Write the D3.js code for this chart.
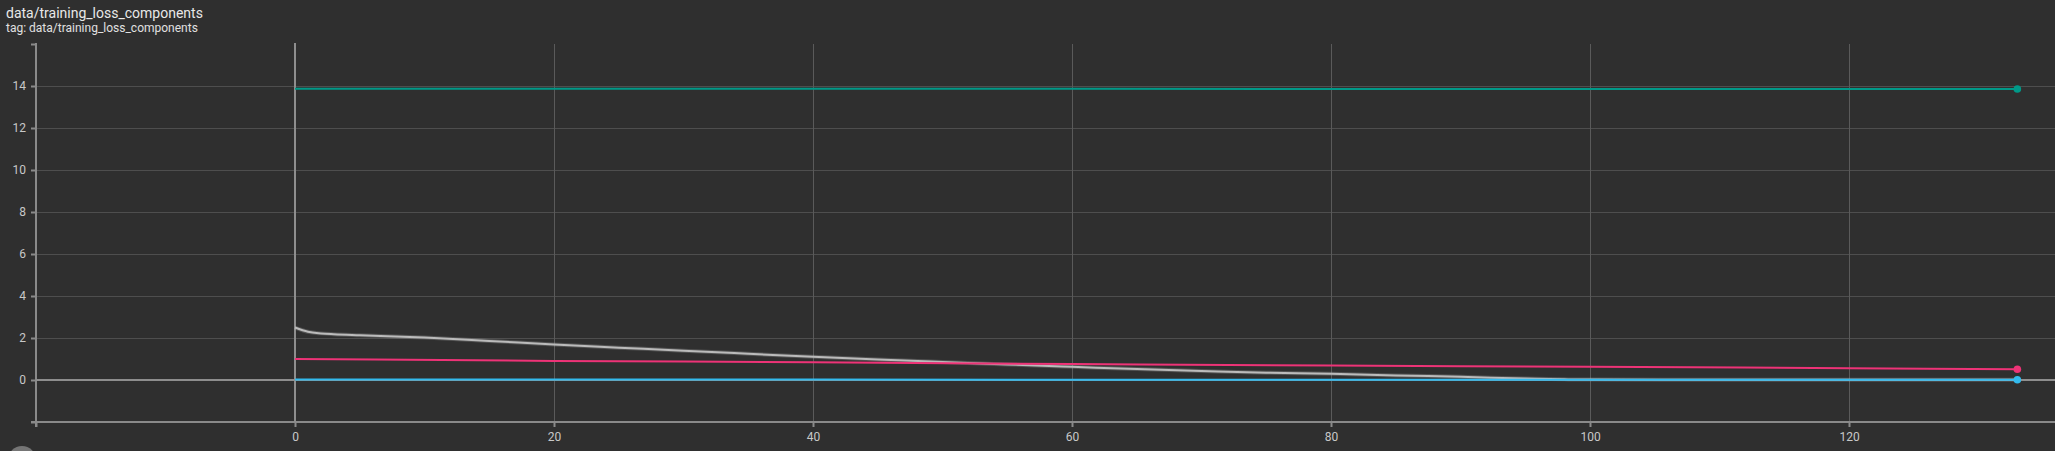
<!DOCTYPE html>
<html>
<head>
<meta charset="utf-8">
<script src="https://cdn.jsdelivr.net/npm/d3@7"></script>
<style>
  html, body { margin: 0; padding: 0; background: #2f2f2f; overflow: hidden; }
  svg { display: block; }
  text { font-family: Roboto, "Noto Sans", sans-serif; }
</style>
</head>
<body>
<svg id="chart" width="2055" height="451"></svg>
<script>
// ---- data ----
const titleText = "data/training_loss_components";
const subtitleText = "tag: data/training_loss_components";

const xTicks = [-20, 0, 20, 40, 60, 80, 100, 120];
const xTickLabels = ["", "0", "20", "40", "60", "80", "100", "120"];
const yTicks = [-2, 0, 2, 4, 6, 8, 10, 12, 14, 16];
const yTickLabels = ["", "0", "2", "4", "6", "8", "10", "12", "14", ""];

// steps and values for each series
const greySteps   = [0, 1, 2, 3, 5, 10, 15, 20, 25, 30, 35, 40, 45, 50, 55, 60, 65, 70, 75, 80, 85, 90, 95, 98, 100, 110, 120, 133];
const greyValues  = [2.50, 2.30, 2.22, 2.18, 2.13, 2.02, 1.86, 1.69, 1.54, 1.39, 1.25, 1.11, 0.98, 0.86, 0.74, 0.63, 0.52, 0.43, 0.35, 0.30, 0.22, 0.15, 0.07, 0.03, 0.02, 0.01, 0.01, 0.01];

const magentaSteps  = [0, 20, 40, 60, 80, 100, 120, 133];
const magentaValues = [1.00, 0.91, 0.85, 0.76, 0.69, 0.63, 0.56, 0.51];

const tealSteps  = [0, 40, 80, 133];
const tealValues = [13.87, 13.87, 13.86, 13.86];

const cyanSteps  = [0, 40, 80, 133];
const cyanValues = [0.02, 0.02, 0.01, 0.01];

// ---- drawing ----
const svg = d3.select("#chart");
const x = d3.scaleLinear().domain([-20, 136]).range([36, 2056.2]);
const y = d3.scaleLinear().domain([-2, 16]).range([422, 44]);

// title
svg.append("text").attr("x", 6).attr("y", 18)
  .attr("fill", "#e8e8e8").attr("font-size", 14).text(titleText);
svg.append("text").attr("x", 6).attr("y", 32)
  .attr("fill", "#e0e0e0").attr("font-size", 12).text(subtitleText);

// grid
const grid = svg.append("g");
grid.selectAll("line.h").data(yTicks.filter(v => v !== 0 && v !== -2 && v !== 16)).join("line")
  .attr("x1", x(-20)).attr("x2", 2055)
  .attr("y1", d => Math.round(y(d)) + 0.5).attr("y2", d => Math.round(y(d)) + 0.5)
  .attr("stroke", "#4e4e4e").attr("stroke-width", 1);
grid.selectAll("line.v").data(xTicks.filter(v => v > 0)).join("line")
  .attr("x1", d => Math.round(x(d)) + 0.5).attr("x2", d => Math.round(x(d)) + 0.5)
  .attr("y1", y(16)).attr("y2", y(-2))
  .attr("stroke", "#5a5a5a").attr("stroke-width", 1);

// axes
const xAxis = d3.axisBottom(x).tickValues(xTicks)
  .tickFormat((d, i) => xTickLabels[i]).tickSize(5).tickPadding(5);
const yAxis = d3.axisLeft(y).tickValues(yTicks)
  .tickFormat((d, i) => yTickLabels[i]).tickSize(5).tickPadding(5);

const gx = svg.append("g").attr("transform", `translate(0,${y(-2)})`).call(xAxis);
gx.select(".domain").remove();
gx.selectAll(".tick line").attr("stroke", "#8a8a8a").attr("stroke-width", 2);
gx.selectAll(".tick text").attr("fill", "#c8c8c8").attr("font-size", 12);
svg.append("line").attr("x1", 31).attr("x2", 2055).attr("y1", y(-2)).attr("y2", y(-2))
  .attr("stroke", "#8a8a8a").attr("stroke-width", 2);

const gy = svg.append("g").attr("transform", `translate(${x(-20)},0)`).call(yAxis);
gy.select(".domain").remove();
gy.selectAll(".tick line").attr("stroke", "#8a8a8a").attr("stroke-width", 2);
gy.selectAll(".tick text").attr("fill", "#c8c8c8").attr("font-size", 12);
svg.append("line").attr("x1", x(-20)).attr("x2", x(-20)).attr("y1", y(16) - 1).attr("y2", y(-2) + 5)
  .attr("stroke", "#8a8a8a").attr("stroke-width", 2);

// zero lines
svg.append("line").attr("x1", x(-20)).attr("x2", 2055).attr("y1", y(0)).attr("y2", y(0))
  .attr("stroke", "#8e8e8e").attr("stroke-width", 2);
svg.append("line").attr("x1", x(0)).attr("x2", x(0)).attr("y1", y(16) - 1).attr("y2", y(-2))
  .attr("stroke", "#8e8e8e").attr("stroke-width", 2);

// series
const line = d3.line().x(d => x(d[0])).y(d => y(d[1])).curve(d3.curveMonotoneX);
const series = [
  { steps: greySteps, values: greyValues, color: "#bbbbbb", dot: false },
  { steps: tealSteps, values: tealValues, color: "#009988", dot: true },
  { steps: magentaSteps, values: magentaValues, color: "#ee3377", dot: true },
  { steps: cyanSteps, values: cyanValues, color: "#33bbee", dot: true },
];
const gs = svg.append("g");
series.forEach(s => {
  const pts = s.steps.map((st, i) => [st, s.values[i]]);
  if (s.color === "#bbbbbb") {
    gs.append("path").datum(pts).attr("d", line).attr("fill", "none")
      .attr("stroke", s.color).attr("stroke-opacity", 0.25).attr("stroke-width", 4);
  }
  gs.append("path").datum(pts).attr("d", line).attr("fill", "none")
    .attr("stroke", s.color).attr("stroke-width", 2);
});
series.filter(s => s.dot).forEach(s => {
  const n = s.steps.length - 1;
  gs.append("circle").attr("cx", x(s.steps[n])).attr("cy", y(s.values[n]))
    .attr("r", 3.8).attr("fill", s.color);
});

// bottom-left round button (partially visible)
svg.append("circle").attr("cx", 22).attr("cy", 460).attr("r", 14).attr("fill", "#757575");
</script>
</body>
</html>
